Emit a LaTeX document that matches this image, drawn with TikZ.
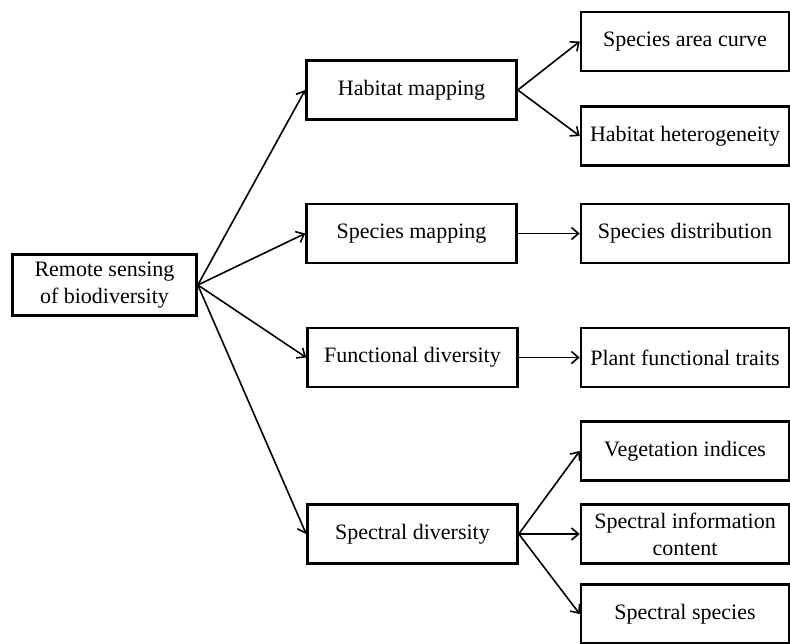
\documentclass[tikz,border=0pt]{standalone}
\usepackage{fontspec}
\setmainfont{Liberation Serif}
\usetikzlibrary{arrows.meta}
\tikzset{
  box/.style={draw, line width=2.6pt, align=center, inner sep=2pt,
    font=\fontsize{22}{27}\selectfont},
  midbox/.style={box, minimum width=210pt, minimum height=59pt},
  leafbox/.style={box, minimum width=208pt, minimum height=59pt},
  link/.style={-{Straight Barb[length=7pt,width=12pt]}, line width=1.6pt},
}
\begin{document}
\begin{tikzpicture}[x=1pt,y=-1pt]
    \useasboundingbox (0,0) rectangle (790,644);
    \node[box, minimum width=184pt, minimum height=61pt] (root) at (104.5,285)
      {Remote sensing\\of biodiversity};
    % middle column
    \node[midbox] (habitat) at (411.5,90) {Habitat mapping};
    \node[midbox] (species) at (411.5,233.5) {Species mapping};
    \node[midbox] (functional) at (412.5,357.5) {Functional diversity};
    \node[midbox] (spectral) at (412.5,534) {Spectral diversity};
    % right column
    \node[leafbox] (areacurve) at (685,41.5) {Species area curve};
    \node[leafbox] (heterog) at (685,136) {Habitat heterogeneity};
    \node[leafbox] (distrib) at (685,233.5) {Species distribution};
    \node[leafbox] (traits) at (685,357.5) {Plant functional traits};
    \node[leafbox] (vegind) at (685,451) {Vegetation indices};
    \node[leafbox] (infocont) at (685,534) {Spectral information\\content};
    \node[leafbox] (specspecies) at (685,614) {Spectral species};
    \foreach \a/\b in {root/habitat, root/species, root/functional, root/spectral,
      habitat/areacurve, habitat/heterog, species/distrib, functional/traits,
      spectral/vegind, spectral/infocont, spectral/specspecies}
      \draw[link] (\a.east) -- (\b.west);
\end{tikzpicture}
\end{document}
